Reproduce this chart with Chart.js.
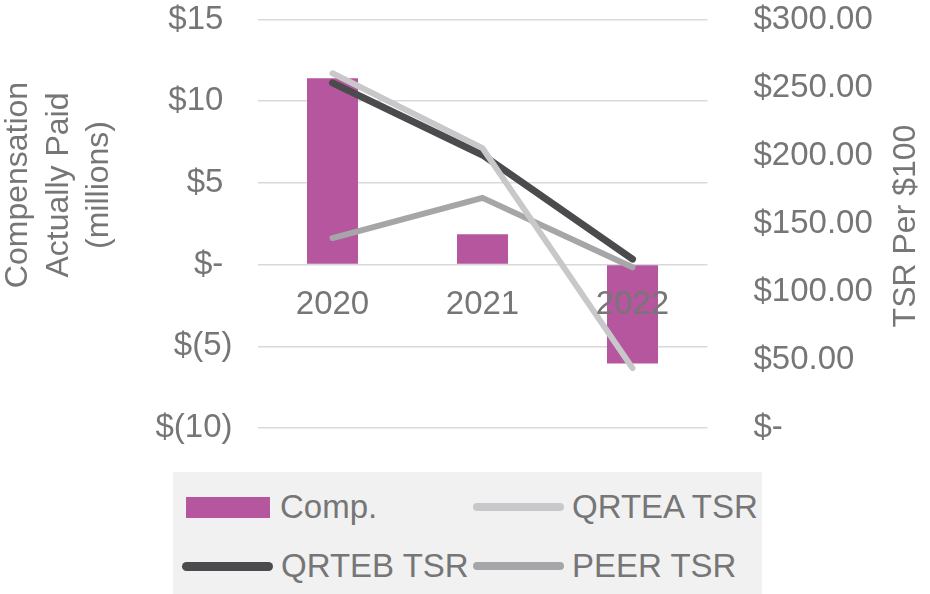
<!doctype html>
<html lang="en">
<head>
    <meta charset="utf-8">
    <title>Compensation Actually Paid vs TSR</title>
    <script src="https://cdn.jsdelivr.net/npm/chart.js@4/dist/chart.umd.min.js"></script>
    <style>
        html, body { margin: 0; padding: 0; background: #fff; }
        .wrap { position: relative; width: 930px; height: 594px; }
        #chart { position: absolute; left: 0; top: 0; }
        .legend {
            position: absolute; left: 173px; top: 472px; width: 589px; height: 122px;
            background: #f1f1f2; font-family: "Liberation Sans", Arial, sans-serif;
            font-size: 33px; color: #767676;
        }
        .legend .item { position: absolute; height: 40px; display: flex; align-items: center; }
        .legend .swatch { display: inline-block; margin-right: 8px; }
    </style>
</head>
<body>
<div class="wrap">
    <canvas id="chart" width="930" height="594"></canvas>
    <div class="legend" id="legend"></div>
</div>
<script>
    // data
    const years = ['2020', '2021', '2022'];
    const comp = [11.4, 1.85, -6.05];          // $ millions
    const qrteaTsr = [260.5, 205.5, 44];
    const qrtebTsr = [253.5, 200.5, 124];
    const peerTsr = [139.5, 169, 118];

    const leftTickValues = [-10, -5, 0, 5, 10, 15];
    const leftTickLabels = ['$(10)', '$(5)', '$-', '$5', '$10', '$15'];
    const rightTickValues = [0, 50, 100, 150, 200, 250, 300];
    const rightTickLabels = ['$-', '$50.00', '$100.00', '$150.00', '$200.00', '$250.00', '$300.00'];
    const leftTitle = ['Compensation', 'Actually Paid', '(millions)'];
    const rightTitle = 'TSR Per $100';

    const textColor = '#767676';
    const fontFamily = '"Liberation Sans", Arial, sans-serif';

    // rotated axis titles (excel puts them off-centre, so draw them ourselves)
    const axisTitles = {
        id: 'axisTitles',
        afterDraw(chart) {
            const ctx = chart.ctx;
            ctx.save();
            ctx.fillStyle = textColor;
            ctx.font = '32px ' + fontFamily;
            ctx.textAlign = 'center';
            ctx.textBaseline = 'alphabetic';
            ctx.translate(0, 185);
            ctx.rotate(-Math.PI / 2);
            leftTitle.forEach((t, i) => ctx.fillText(t, 0, 27 + i * 40.5));
            ctx.restore();

            ctx.save();
            ctx.fillStyle = textColor;
            ctx.font = '32px ' + fontFamily;
            ctx.textAlign = 'center';
            ctx.translate(915, 226);
            ctx.rotate(-Math.PI / 2);
            ctx.fillText(rightTitle, 0, 0);
            ctx.restore();
        }
    };

    // y axes: fixed width, and no extra top/bottom room for the end labels
    function fixY(width) {
        return (scale) => {
            scale.width = width;
            scale.paddingTop = 0;
            scale.paddingBottom = 0;
        };
    }

    const chart = new Chart(document.getElementById('chart').getContext('2d'), {
        type: 'bar',
        data: {
            labels: years,
            datasets: [{
                label: 'Comp.',
                data: comp,
                backgroundColor: '#b5569f',
                yAxisID: 'y',
                barPercentage: 0.34,
                categoryPercentage: 1,
                order: 4
            }, {
                type: 'line',
                label: 'QRTEA TSR',
                data: qrteaTsr,
                borderColor: '#c8c8ca',
                borderWidth: 6,
                yAxisID: 'y1',
                order: 1
            }, {
                type: 'line',
                label: 'QRTEB TSR',
                data: qrtebTsr,
                borderColor: '#4b4b4e',
                borderWidth: 7,
                yAxisID: 'y1',
                order: 2
            }, {
                type: 'line',
                label: 'PEER TSR',
                data: peerTsr,
                borderColor: '#a6a6a8',
                borderWidth: 6,
                yAxisID: 'y1',
                order: 3
            }]
        },
        options: {
            responsive: false,
            animation: false,
            layout: {
                padding: {top: 19.5, bottom: 166, left: 0, right: 0}
            },
            elements: {
                line: {borderCapStyle: 'round', borderJoinStyle: 'round', tension: 0},
                point: {radius: 0, hoverRadius: 0}
            },
            plugins: {
                legend: {display: false},
                tooltip: {enabled: false}
            },
            scales: {
                x: {
                    position: {y: 0},
                    grid: {display: false},
                    border: {display: false},
                    ticks: {
                        z: 1,   // year labels sit on top of the bars
                        color: textColor,
                        font: {family: fontFamily, size: 33},
                        padding: 13
                    },
                    afterFit: (scale) => { scale.height = 0; }
                },
                y: {
                    position: 'left',
                    min: -10,
                    max: 15,
                    grid: {color: '#d9d9d9', lineWidth: 1.5, drawTicks: false},
                    border: {display: false},
                    afterBuildTicks: (scale) => {
                        scale.ticks = leftTickValues.map(v => ({value: v}));
                    },
                    ticks: {
                        color: textColor,
                        font: {family: fontFamily, size: 33},
                        padding: 25,
                        callback: (v) => {
                            const lbl = leftTickLabels[leftTickValues.indexOf(v)];
                            return lbl.endsWith(')') ? lbl : lbl + ' ';
                        }
                    },
                    afterFit: fixY(257.5)
                },
                y1: {
                    position: 'right',
                    min: 0,
                    max: 300,
                    grid: {display: false},
                    border: {display: false},
                    afterBuildTicks: (scale) => {
                        scale.ticks = rightTickValues.map(v => ({value: v}));
                    },
                    ticks: {
                        color: textColor,
                        font: {family: fontFamily, size: 33},
                        padding: 38,
                        callback: (v) => rightTickLabels[rightTickValues.indexOf(v)]
                    },
                    afterFit: fixY(222.5)
                }
            }
        },
        plugins: [axisTitles]
    });

    // html legend in two fixed columns, like the excel one
    const legendSlots = [
        {left: 0, top: 15}, {left: 300, top: 15},
        {left: 0, top: 74}, {left: 300, top: 74}
    ];
    const legendEl = document.getElementById('legend');
    chart.data.datasets.forEach((ds, i) => {
        const item = document.createElement('div');
        item.className = 'item';
        item.style.left = legendSlots[i].left + 'px';
        item.style.top = legendSlots[i].top + 'px';
        const sw = document.createElement('span');
        sw.className = 'swatch';
        if (ds.type === 'line') {
            sw.style.width = '91px';
            sw.style.height = (ds.borderWidth + 2) + 'px';
            sw.style.borderRadius = '5px';
            sw.style.background = ds.borderColor;
            sw.style.marginLeft = i === 2 ? '9px' : '0px';
        } else {
            sw.style.width = '84px';
            sw.style.height = '21px';
            sw.style.marginLeft = '13px';
            sw.style.marginRight = '10px';
            sw.style.background = ds.backgroundColor;
        }
        item.appendChild(sw);
        item.appendChild(document.createTextNode(ds.label));
        legendEl.appendChild(item);
    });
</script>
</body>
</html>
